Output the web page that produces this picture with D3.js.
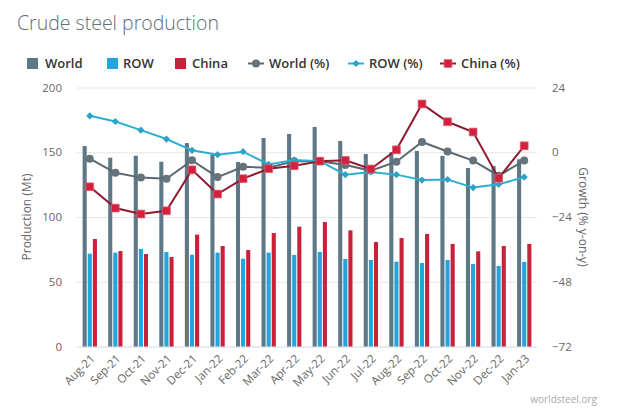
<!DOCTYPE html>
<html>
<head>
  <meta charset="utf-8">
  <script src="https://cdnjs.cloudflare.com/ajax/libs/d3/7.8.5/d3.min.js"></script>
  <style>
    body { margin: 0; background: #fff; }
    svg { font-family: "Open Sans", "Noto Sans", sans-serif; }
  </style>
</head>
<body>
  <svg id="chart" width="635" height="417"></svg>
  <script>
    const months = ["Aug-21", "Sep-21", "Oct-21", "Nov-21", "Dec-21", "Jan-22", "Feb-22", "Mar-22", "Apr-22",
      "May-22", "Jun-22", "Jul-22", "Aug-22", "Sep-22", "Oct-22", "Nov-22", "Dec-22", "Jan-23"]

    // production, Mt
    const world = [154.8, 145.8, 147.3, 142.7, 157.1, 148.4, 142.5, 161.0, 164.1, 169.5, 158.7, 148.6, 150.0, 151.0, 147.2, 137.8, 139.4, 144.6]
    const row = [71.7, 72.5, 75.3, 73.0, 70.9, 72.5, 67.8, 72.5, 70.7, 73.0, 67.6, 66.8, 65.5, 64.5, 66.8, 63.7, 62.2, 65.3]
    const china = [83.0, 73.7, 71.4, 69.1, 86.4, 77.6, 74.5, 87.6, 92.5, 96.1, 89.7, 80.7, 83.8, 86.9, 79.2, 73.5, 77.6, 79.2]

    // growth, % y-on-y
    const worldPct = [-2.4, -7.6, -9.4, -9.8, -3.0, -9.2, -5.4, -5.7, -3.3, -3.3, -4.7, -6.8, -3.5, 3.8, 0.3, -3.1, -8.7, -3.1]
    const rowPct = [13.5, 11.4, 8.2, 4.9, 0.7, -0.9, 0.2, -4.5, -2.9, -3.3, -8.3, -7.3, -8.3, -10.3, -10.1, -13.1, -11.9, -9.2]
    const chinaPct = [-12.8, -20.7, -22.9, -21.7, -6.5, -15.5, -9.8, -6.1, -5.0, -3.3, -3.0, -6.2, 0.9, 17.9, 11.3, 7.5, -9.6, 2.4]

    const leftTicks = [0, 50, 100, 150, 200]
    const rightTicks = [-72, -48, -24, 0, 24]

    const svg = d3.select('#chart')
    const mLeft = 77, mRight = 537, mTop = 87.5, mBottom = 346.5

    const x = d3.scaleBand().domain(months).range([mLeft, mRight])
    const inner = d3.scaleBand().domain(['world', 'row', 'china'])
      .range([x.bandwidth() * 0.2, x.bandwidth() * 0.8]).paddingInner(0.2).paddingOuter(0.1)
    const yL = d3.scaleLinear().domain([0, 200]).range([mBottom, mTop])
    const yR = d3.scaleLinear().domain([-72, 24]).range([mBottom, mTop])

    // title
    svg.append('text').attr('x', 17).attr('y', 30)
      .attr('font-size', 19.5).attr('fill', '#5d6e76').attr('font-weight', 300)
      .text('Crude steel production')

    // grid
    svg.append('g').selectAll('line').data(leftTicks).enter().append('line')
      .attr('x1', mLeft).attr('x2', mRight)
      .attr('y1', d => yL(d) + 0.5).attr('y2', d => yL(d) + 0.5)
      .attr('stroke', d => d === 0 ? '#ccd6eb' : '#e6e6e6').attr('stroke-width', 1)

    // left axis
    const axL = svg.append('g').attr('transform', 'translate(' + (mLeft - 15) + ',0)')
      .call(d3.axisLeft(yL).tickValues(leftTicks).tickSize(0).tickPadding(0))
    axL.select('.domain').remove()
    axL.selectAll('text').attr('font-size', 11.5).attr('fill', '#666').attr('font-family', '"Open Sans", sans-serif')

    // right axis
    const axR = svg.append('g').attr('transform', 'translate(' + (mRight + 15) + ',0)')
      .call(d3.axisRight(yR).tickValues(rightTicks).tickSize(0).tickPadding(0)
        .tickFormat(d => d < 0 ? '\u2212' + Math.abs(d) : d))
    axR.select('.domain').remove()
    axR.selectAll('text').attr('font-size', 11.5).attr('fill', '#666').attr('font-family', '"Open Sans", sans-serif')

    // axis titles
    svg.append('text').attr('transform', 'translate(31,' + ((mTop + mBottom) / 2) + ') rotate(-90)')
      .attr('text-anchor', 'middle').attr('font-size', 12).attr('fill', '#666')
      .text('Production (Mt)')
    svg.append('text').attr('transform', 'translate(579,' + ((mTop + mBottom) / 2) + ') rotate(90)')
      .attr('text-anchor', 'middle').attr('font-size', 12).attr('fill', '#666')
      .text('Growth (% y-on-y)')

    // x labels
    svg.append('g').selectAll('text').data(months).enter().append('text')
      .attr('transform', d => 'translate(' + (x(d) + x.bandwidth() / 2 + 3) + ',' + (mBottom + 10) + ') rotate(-45)')
      .attr('text-anchor', 'end').attr('dy', '0.35em')
      .attr('font-size', 11.5).attr('fill', '#666')
      .text(d => d)

    // bars
    const barSeries = [
      { key: 'world', values: world, color: '#5f7888' },
      { key: 'row', values: row, color: '#22a5dc' },
      { key: 'china', values: china, color: '#c8213a' }
    ]
    barSeries.forEach(s => {
      svg.append('g').selectAll('rect').data(s.values).enter().append('rect')
        .attr('x', (d, i) => x(months[i]) + inner(s.key))
        .attr('width', inner.bandwidth())
        .attr('y', d => yL(d))
        .attr('height', d => yL(0) - yL(d))
        .attr('fill', s.color)
    })

    // lines
    const cx = i => x(months[i]) + x.bandwidth() / 2
    const lineSeries = [
      { name: 'World (%)', values: worldPct, line: '#5b6870', fill: '#66737b', shape: 'circle' },
      { name: 'ROW (%)', values: rowPct, line: '#2bb0d0', fill: '#2aa3c6', shape: 'diamond' },
      { name: 'China (%)', values: chinaPct, line: '#8e1b30', fill: '#d2203d', shape: 'square' }
    ]
    const sym = { circle: d3.symbolCircle, diamond: d3.symbolSquare, square: d3.symbolSquare }
    const size = { circle: 50, diamond: 26, square: 60 }

    function drawMarker(g, shape, fill, stroke) {
      g.append('path').attr('d', d3.symbol().type(sym[shape]).size(size[shape])())
        .attr('transform', shape === 'diamond' ? 'rotate(45)' : null)
        .attr('fill', fill).attr('stroke', stroke).attr('stroke-width', shape === 'square' ? 0.8 : 0)
    }

    lineSeries.forEach(s => {
      const line = d3.line().x((d, i) => cx(i)).y(d => yR(d))
      svg.append('path').datum(s.values).attr('d', line)
        .attr('fill', 'none').attr('stroke', s.line).attr('stroke-width', 2)
      svg.append('g').selectAll('g').data(s.values).enter().append('g')
        .attr('transform', (d, i) => 'translate(' + cx(i) + ',' + yR(d) + ')')
        .each(function () { drawMarker(d3.select(this), s.shape, s.fill, '#e05a6e') })
    })

    // legend
    const legend = svg.append('g').attr('font-size', 13).attr('font-weight', 600).attr('fill', '#333')
    const barLegend = [
      { name: 'World', color: '#5f7888', x: 27, tx: 45 },
      { name: 'ROW', color: '#22a5dc', x: 107, tx: 123 },
      { name: 'China', color: '#c8213a', x: 175, tx: 192 }
    ]
    barLegend.forEach(d => {
      legend.append('rect').attr('x', d.x).attr('y', 58).attr('width', 11).attr('height', 11).attr('fill', d.color)
      legend.append('text').attr('x', d.tx).attr('y', 68).text(d.name)
    })
    const lineLegendX = [248, 348, 440]
    lineSeries.forEach((s, i) => {
      const lx = lineLegendX[i]
      legend.append('line').attr('x1', lx).attr('x2', lx + 16).attr('y1', 63.5).attr('y2', 63.5)
        .attr('stroke', s.line).attr('stroke-width', 2)
      const m = legend.append('g').attr('transform', 'translate(' + (lx + 8) + ',63.5)')
      drawMarker(m, s.shape, s.fill, '#e05a6e')
      legend.append('text').attr('x', lx + 21).attr('y', 68).text(s.name)
    })

    // credit
    svg.append('text').attr('x', 597).attr('y', 403).attr('text-anchor', 'end')
      .attr('font-size', 10).attr('fill', '#aaa').text('worldsteel.org')
  </script>
</body>
</html>
